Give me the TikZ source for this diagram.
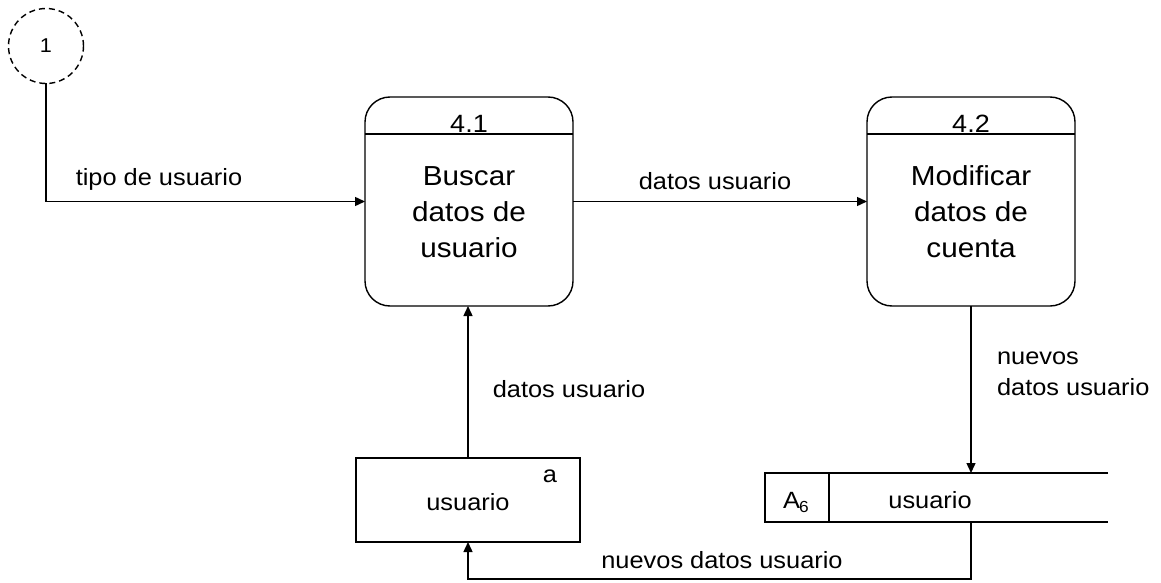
\documentclass[tikz,border=0pt]{standalone}
\usepackage{fontspec}
\setmainfont{Liberation Sans}[FakeStretch=1.08]
\usetikzlibrary{arrows.meta}
\begin{document}
\begin{tikzpicture}[x=1pt,y=-1pt,
  line width=1.4pt,
  flow/.style={-{Triangle[length=10pt,width=9pt]}},
  plain/.style={inner sep=0pt,outer sep=0pt},
  procbox/.style={plain,draw,rounded corners=25pt,minimum width=208pt,minimum height=209pt},
  boxtext/.style={font=\fontsize{27.5}{36}\selectfont,anchor=base},
  numtext/.style={font=\fontsize{25}{30}\selectfont,anchor=base},
  lbl/.style={font=\fontsize{23.5}{31}\selectfont,anchor=base}]
\useasboundingbox (0,0) rectangle (1161,583);

% external connector
\node[plain,draw,dashed,dash pattern=on 6pt off 4pt,circle,minimum size=75pt] (c1) at (46,46) {};
\node[font=\fontsize{20}{22}\selectfont] (c1t) at (46,46) {1};

% process 4.1
\node[procbox] (p1) at (469,201.5) {};
\draw ([yshift=-37pt]p1.north west) -- ([yshift=-37pt]p1.north east);
\node[numtext] (p1n) at (469,132) {4.1};
\node[boxtext] (p1a) at (469,185) {Buscar};
\node[boxtext] (p1b) at (469,221) {datos de};
\node[boxtext] (p1c) at (469,257) {usuario};

% process 4.2
\node[procbox] (p2) at (971,201.5) {};
\draw ([yshift=-37pt]p2.north west) -- ([yshift=-37pt]p2.north east);
\node[numtext] (p2n) at (971,132) {4.2};
\node[boxtext] (p2a) at (971,185) {Modificar};
\node[boxtext] (p2b) at (971,221) {datos de};
\node[boxtext] (p2c) at (971,257) {cuenta};

% external entity usuario
\node[plain,draw,minimum width=224pt,minimum height=84pt] (ua) at (468,500) {};
\node[lbl] (uat) at (468,510) {usuario};
\node[lbl] (uaa) at (550,482) {a};

% data store A6
\node[plain,minimum width=343pt,minimum height=49pt] (st) at (936.5,497.5) {};
\draw (st.north east) -- (st.north west) -- (st.south west) -- (st.south east);
\draw ([xshift=64pt]st.north west) -- ([xshift=64pt]st.south west);
\node[lbl] (stid) at (796,508) {A\kern-1pt\raisebox{-4pt}{\fontsize{16}{16}\selectfont 6}};
\node[lbl] (stt) at (930,508) {usuario};

% flows
\draw[flow] (c1.south) |- (p1.west);
\node[lbl] (l1) at (159,185) {tipo de usuario};

\draw[flow] (p1.east) -- (p2.west);
\node[lbl] (l2) at (715,189) {datos usuario};

\draw[flow] (ua.north) -- (ua.north |- p1.south);
\node[lbl] (l3) at (569,397) {datos usuario};

\draw[flow] (p2.south) -- (p2.south |- st.north);
\node[lbl,anchor=base west] (l4a) at (993,364) {nuevos};
\node[lbl,anchor=base west] (l4b) at (993,395) {datos usuario};

\draw[flow] (p2.south |- st.south) -- ++(0,57) -| (ua.south);
\node[lbl] (l5) at (722,568) {nuevos datos usuario};
\end{tikzpicture}
\end{document}
